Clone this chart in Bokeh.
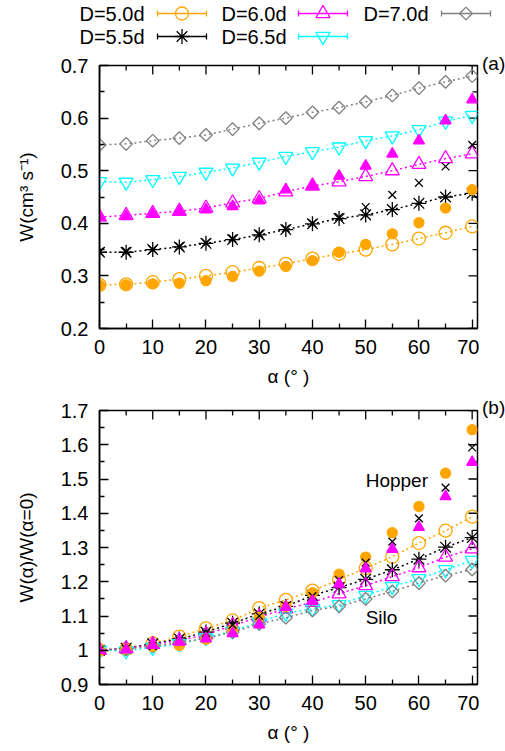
import math
from bokeh.plotting import figure
from bokeh.layouts import column, row
from bokeh.models import Range1d, FixedTicker, Div
from bokeh.embed import file_html
from bokeh.resources import INLINE
from bokeh.core.properties import value

# ---------------- data ----------------
alpha = [0, 5, 10, 15, 20, 25, 30, 35, 40, 45, 50, 55, 60, 65, 70]

series_names = ["D=5.0d", "D=5.5d", "D=6.0d", "D=6.5d", "D=7.0d"]

# panel (a): flow rate W (cm^3/s), silo (open symbols)
w50_silo = [0.283, 0.284, 0.288, 0.294, 0.300, 0.307, 0.315, 0.323, 0.333, 0.342, 0.350, 0.360, 0.371, 0.382, 0.394]
w55_silo = [0.345, 0.345, 0.350, 0.355, 0.362, 0.369, 0.378, 0.388, 0.399, 0.409, 0.416, 0.426, 0.438, 0.450, 0.457]
w60_silo = [0.412, 0.415, 0.419, 0.423, 0.429, 0.439, 0.447, 0.460, 0.471, 0.479, 0.489, 0.500, 0.512, 0.523, 0.532]
w65_silo = [0.479, 0.478, 0.483, 0.489, 0.497, 0.505, 0.516, 0.527, 0.536, 0.545, 0.557, 0.566, 0.578, 0.594, 0.605]
w70_silo = [0.549, 0.551, 0.557, 0.562, 0.568, 0.579, 0.590, 0.600, 0.611, 0.620, 0.631, 0.643, 0.657, 0.669, 0.680]

# panel (a): hopper (filled symbols / x)
w50_hop = [0.282, 0.283, 0.285, 0.286, 0.291, 0.299, 0.309, 0.318, 0.329, 0.345, 0.360, 0.380, 0.401, 0.429, 0.464]
w55_hop = [0.346, 0.347, 0.350, 0.356, 0.363, 0.371, 0.380, 0.390, 0.400, 0.412, 0.431, 0.454, 0.477, 0.508, 0.549]
w60_hop = [0.412, 0.413, 0.418, 0.422, 0.426, 0.432, 0.443, 0.464, 0.471, 0.490, 0.509, 0.532, 0.557, 0.595, 0.635]

# panel (b): normalised W(alpha)/W(0), silo
r50_silo = [1.000, 1.003, 1.020, 1.040, 1.064, 1.087, 1.123, 1.147, 1.174, 1.206, 1.240, 1.273, 1.313, 1.349, 1.390]
r55_silo = [1.000, 1.006, 1.019, 1.033, 1.053, 1.079, 1.106, 1.128, 1.160, 1.183, 1.207, 1.235, 1.266, 1.301, 1.329]
r60_silo = [1.000, 1.005, 1.017, 1.028, 1.046, 1.072, 1.097, 1.121, 1.140, 1.165, 1.189, 1.215, 1.241, 1.272, 1.296]
r65_silo = [1.000, 0.998, 1.008, 1.019, 1.036, 1.056, 1.082, 1.108, 1.121, 1.133, 1.160, 1.186, 1.209, 1.235, 1.262]
r70_silo = [1.000, 1.003, 1.012, 1.022, 1.035, 1.053, 1.077, 1.095, 1.116, 1.128, 1.150, 1.172, 1.196, 1.218, 1.236]

# panel (b): hopper
r50_hop = [1.000, 1.004, 1.011, 1.014, 1.032, 1.060, 1.096, 1.128, 1.168, 1.222, 1.272, 1.343, 1.420, 1.517, 1.644]
r55_hop = [1.000, 1.004, 1.012, 1.029, 1.050, 1.074, 1.100, 1.130, 1.158, 1.205, 1.256, 1.317, 1.385, 1.475, 1.592]
r60_hop = [1.000, 1.002, 1.015, 1.024, 1.034, 1.049, 1.075, 1.126, 1.143, 1.194, 1.238, 1.295, 1.359, 1.449, 1.549]

x_ticks = [0, 10, 20, 30, 40, 50, 60, 70]
x_minor = [5, 15, 25, 35, 45, 55, 65]
ya_ticks = [0.2, 0.3, 0.4, 0.5, 0.6, 0.7]
ya_labels = ["0.2", "0.3", "0.4", "0.5", "0.6", "0.7"]
ya_minor = [0.25, 0.35, 0.45, 0.55, 0.65]
yb_ticks = [0.9, 1.0, 1.1, 1.2, 1.3, 1.4, 1.5, 1.6, 1.7]
yb_labels = ["0.9", "1", "1.1", "1.2", "1.3", "1.4", "1.5", "1.6", "1.7"]
yb_minor = [0.95, 1.05, 1.15, 1.25, 1.35, 1.45, 1.55, 1.65]

X_MAX = 71

# ---------------- styles ----------------
colors = ["#ffa500", "#000000", "#ff00ff", "#00ffff", "#808080"]
markers = ["circle", "asterisk", "triangle", "inverted_triangle", "square"]
m_angles = [0, 0, 0, 0, math.pi / 4]
m_sizes = [13, 15, 14, 14, 9]
hop_markers = ["circle", "x", "triangle"]
hop_sizes = [10, 11, 11]
hop_filled = [True, False, True]

FONT = "Liberation Sans"
PANEL_W = 479
SIDE_W = 26
FULL_W = PANEL_W + SIDE_W
FRAME_L = 99
FRAME_W = 378


def style_panel(p, yticks, ylabels, yminor, ylabel, y_max):
    p.grid.visible = False
    p.outline_line_color = "black"
    p.outline_line_width = 1.5
    p.background_fill_color = "white"
    p.border_fill_color = "white"
    xa = p.xaxis[0]
    ya = p.yaxis[0]
    xa.ticker = FixedTicker(ticks=x_ticks, minor_ticks=x_minor)
    ya.ticker = FixedTicker(ticks=yticks, minor_ticks=yminor)
    ya.major_label_overrides = {t: l for t, l in zip(yticks, ylabels)}
    xa.axis_label = "α (° )"
    ya.axis_label = ylabel
    for ax in (xa, ya):
        ax.axis_line_color = "black"
        ax.axis_line_width = 1.5
        ax.major_tick_in = 9
        ax.major_tick_out = 0
        ax.minor_tick_in = 5
        ax.minor_tick_out = 0
        ax.major_tick_line_width = 1.3
        ax.minor_tick_line_width = 1.3
        ax.major_label_text_font = FONT
        ax.major_label_text_font_size = "20px"
        ax.major_label_text_color = "black"
        ax.axis_label_text_font = FONT
        ax.axis_label_text_font_size = "19px"
        ax.axis_label_text_font_style = "normal"
        ax.axis_label_text_color = "black"
    xa.major_label_standoff = 11
    xa.axis_label_standoff = 9
    ya.major_label_standoff = 11
    ya.axis_label_standoff = 21
    # mirrored inward ticks on the top and right frame edges (clipped half of a dash)
    p.scatter(x_ticks, [y_max] * len(x_ticks), marker="dash", angle=math.pi / 2,
              size=18, line_color="black", line_width=1.3)
    p.scatter(x_minor, [y_max] * len(x_minor), marker="dash", angle=math.pi / 2,
              size=10, line_color="black", line_width=1.3)
    p.scatter([X_MAX] * len(yticks), yticks, marker="dash", size=18,
              line_color="black", line_width=1.3)
    p.scatter([X_MAX] * len(yminor), yminor, marker="dash", size=10,
              line_color="black", line_width=1.3)


def draw_series(p, silo, hop):
    for ys, c, m, a, s in zip(silo, colors, markers, m_angles, m_sizes):
        p.line(alpha, ys, line_color=c, line_width=1.5, line_dash="2 3")
        p.scatter(alpha, ys, marker=m, size=s, angle=a, line_color=c,
                  fill_color=None, line_width=1.3)
    for ys, c, m, s, f in zip(hop, colors, hop_markers, hop_sizes, hop_filled):
        p.scatter(alpha, ys, marker=m, size=s, line_color=c,
                  fill_color=c if f else None, line_width=1.3)


def side_tag(height, tag, pad_top):
    html = ('<div style="font-family: \'Liberation Sans\'; font-size: 19px; '
            'line-height: 22px; color: black; white-space: nowrap; '
            'padding-top: %dpx; padding-left: 3px;">%s</div>' % (pad_top, tag))
    return Div(text=html, width=SIDE_W, height=height, margin=0)


# ---------------- legend strip ----------------
LEG_H = 52
leg = figure(width=FULL_W, height=LEG_H, x_range=Range1d(0, FULL_W),
             y_range=Range1d(LEG_H, 0), x_axis_type=None, y_axis_type=None,
             title=None, output_backend="svg", toolbar_location=None, min_border=0)
leg.grid.visible = False
leg.outline_line_color = None
leg_text_x = [144, 144, 286, 286, 428]
leg_row_y = [13, 36, 13, 36, 13]
leg_line_x0 = [157, 157, 298, 298, 441]
leg_len = 49
for i in range(5):
    x0 = leg_line_x0[i]
    y = leg_row_y[i]
    leg.text([leg_text_x[i]], [y], text=[series_names[i]], text_font=value(FONT),
             text_font_size="20px", text_align="right", text_baseline="middle",
             text_color="black")
    leg.line([x0, x0 + leg_len], [y, y], line_color=colors[i], line_width=1.3)
    leg.scatter([x0, x0 + leg_len], [y, y], marker="dash", angle=math.pi / 2, size=6,
                line_color=colors[i], line_width=1.3)
    leg.scatter([x0 + leg_len / 2], [y], marker=markers[i], size=m_sizes[i],
                angle=m_angles[i], line_color=colors[i], fill_color=None, line_width=1.3)

# ---------------- panel (a) ----------------
PA_H = 13 + 263 + 62
pa = figure(width=PANEL_W, height=PA_H, x_range=Range1d(0, X_MAX), y_range=Range1d(0.2, 0.7),
            title=None, output_backend="svg", toolbar_location=None,
            min_border_left=FRAME_L, min_border_right=PANEL_W - FRAME_L - FRAME_W,
            min_border_top=13, min_border_bottom=62)
style_panel(pa, ya_ticks, ya_labels, ya_minor, "W(cm³ s⁻¹)", 0.7)
draw_series(pa, [w50_silo, w55_silo, w60_silo, w65_silo, w70_silo],
            [w50_hop, w55_hop, w60_hop])
sa = side_tag(PA_H, "(a)", 1)

# ---------------- panel (b) ----------------
PB_H = 20 + 274 + 64
pb = figure(width=PANEL_W, height=PB_H, x_range=Range1d(0, X_MAX), y_range=Range1d(0.9, 1.7),
            title=None, output_backend="svg", toolbar_location=None,
            min_border_left=FRAME_L, min_border_right=PANEL_W - FRAME_L - FRAME_W,
            min_border_top=20, min_border_bottom=64)
style_panel(pb, yb_ticks, yb_labels, yb_minor, "W(α)/W(α=0)", 1.7)
draw_series(pb, [r50_silo, r55_silo, r60_silo, r65_silo, r70_silo],
            [r50_hop, r55_hop, r60_hop])
pb.text([50], [1.496], text=["Hopper"], text_font=value(FONT), text_font_size="19px",
        text_baseline="middle", text_color="black")
pb.text([50], [1.096], text=["Silo"], text_font=value(FONT), text_font_size="19px",
        text_baseline="middle", text_color="black")
sb = side_tag(PB_H, "(b)", 7)

layout = column(leg, row(pa, sa, spacing=0), row(pb, sb, spacing=0), spacing=0)
open("out.html", "w").write(file_html(layout, INLINE))
